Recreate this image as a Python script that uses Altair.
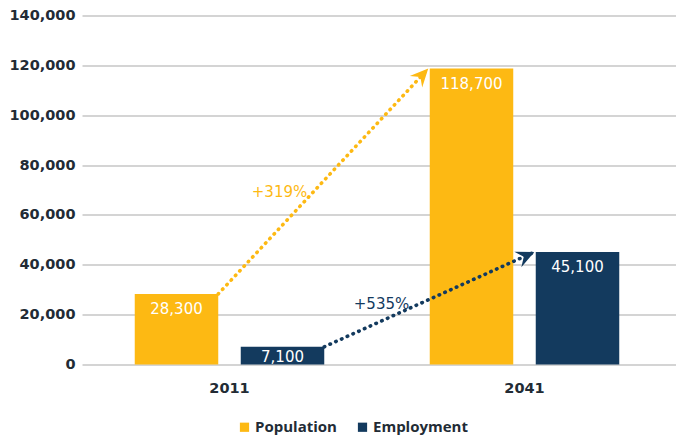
import math
import altair as alt
import pandas as pd

# ---- data ----
years = ["2011", "2041"]
series = ["Population", "Employment"]
population = [28300, 118700]
employment = [7100, 45100]
growth_labels = ["+319%", "+535%"]
colors = ["#FDB913", "#133A5E"]
y_ticks = [0, 20000, 40000, 60000, 80000, 100000, 120000, 140000]

# ---- layout ----
W, H = 594, 349
Y_MAX = 140000
BAND = 295.0
X_PAD_OUTER = (W / BAND - len(years)) / 2
STEP = W / (len(years) + 2 * X_PAD_OUTER)
SUB_PI, SUB_PO = 0.2123, 0.4976
NUM_FONT = "DejaVu Sans"
TXT_FONT = "Open Sans"
DARK = "#222B35"

values_by_series = [population, employment]

bars = pd.DataFrame(
    [{"year": y, "series": s, "value": v}
     for s, vals in zip(series, values_by_series)
     for y, v in zip(years, vals)]
)

# fractions of a year band where each sub-bar starts / ends
sub = 1.0 / (len(series) - SUB_PI + 2 * SUB_PO)
def left_edge(i):
    return (SUB_PO + i) * sub
def right_edge(i):
    return (SUB_PO + i + 1 - SUB_PI) * sub

gap = 1.5 / STEP
line_rows, head_rows, mid_rows = [], [], []
for i, (s, vals, g) in enumerate(zip(series, values_by_series, growth_labels)):
    f0 = right_edge(i)
    f1 = left_edge(i) - gap
    v0, v1 = vals[0], vals[-1]
    line_rows.append({"year": years[0], "series": s, "frac": f0, "value": v0})
    line_rows.append({"year": years[-1], "series": s, "frac": f1, "value": v1})
    dx = (1 + f1 - f0) * STEP
    dy = (v1 - v0) / Y_MAX * H
    ang = math.degrees(math.atan2(dx, dy))
    head_rows.append({"year": years[-1], "series": s, "frac": f1, "value": v1, "angle": ang})
    mid_rows.append({"year": years[0], "series": s, "frac": (f0 + 1 + f1) / 2,
                     "value": (v0 + v1) / 2, "label": g})

lines = pd.DataFrame(line_rows)
heads = pd.DataFrame(head_rows)
mids = pd.DataFrame(mid_rows)

x_enc = alt.X(
    "year:N",
    scale=alt.Scale(domain=years, paddingInner=0, paddingOuter=X_PAD_OUTER, align=0),
    axis=alt.Axis(title=None, domain=False, ticks=False, labelAngle=0,
                  labelFont=NUM_FONT, labelFontWeight="bold", labelFontSize=14.5,
                  labelColor=DARK, labelPadding=17),
)
y_enc = alt.Y(
    "value:Q",
    scale=alt.Scale(domain=[0, Y_MAX], nice=False),
    axis=alt.Axis(title=None, values=y_ticks, labelExpr="format(datum.value, ',')",
                  grid=True, gridColor="#C6C6C6", gridWidth=1.5, domain=False, ticks=False,
                  labelFont=NUM_FONT, labelFontWeight="bold", labelFontSize=14.5,
                  labelColor=DARK, labelPadding=7),
)
sub_offset = alt.XOffset("series:N", scale=alt.Scale(type="band", domain=series,
                                                      paddingInner=SUB_PI,
                                                      paddingOuter=SUB_PO))
color_scale = alt.Scale(domain=series, range=colors)
frac_offset = alt.XOffset("frac:Q", scale=alt.Scale(domain=[0, 1], range=[0, STEP]))

bar_layer = alt.Chart(bars).mark_bar().encode(
    x=x_enc,
    xOffset=sub_offset,
    y=y_enc,
    color=alt.Color(
        "series:N", scale=color_scale,
        legend=alt.Legend(
            title=None, orient="none", direction="horizontal", legendX=155, legendY=404,
            symbolType="square", symbolSize=85, symbolStrokeWidth=0, padding=0,
            labelFont=TXT_FONT, labelFontWeight="bold", labelFontSize=15,
            labelColor=DARK, labelOffset=3, columnPadding=18,
        ),
    ),
)

tall_thr = f"datum.value * {H} / {Y_MAX} >= 30"
label_tall = alt.Chart(bars).transform_filter(tall_thr).mark_text(
    color="white", font=NUM_FONT, fontSize=15, baseline="middle", dy=15
).encode(x=x_enc, xOffset=sub_offset, y=y_enc, text=alt.Text("value:Q", format=","))
label_short = alt.Chart(bars).transform_filter(f"!({tall_thr})").mark_text(
    color="white", font=NUM_FONT, fontSize=15, baseline="middle", dy=10
).encode(x=x_enc, xOffset=sub_offset, y=y_enc, text=alt.Text("value:Q", format=","))

line_layer = alt.Chart(lines).mark_line(
    strokeWidth=3.6, strokeDash=[0.5, 5.8], strokeCap="round"
).encode(
    x=x_enc, xOffset=frac_offset, y=y_enc,
    color=alt.Color("series:N", scale=color_scale, legend=None),
    detail="series:N",
)

ARROW = "M0,0 L0.85,1.8 L0,1.15 L-0.85,1.8 Z"
head_layer = alt.Chart(heads).mark_point(
    shape=ARROW, filled=True, opacity=1, size=400, strokeWidth=0
).encode(
    x=x_enc, xOffset=frac_offset, y=y_enc,
    angle=alt.Angle("angle:Q", scale=None),
    color=alt.Color("series:N", scale=color_scale, legend=None),
)

pct_offsets = {"Population": (-16, 11), "Employment": (-20, 5)}
pct_layers = []
for s in series:
    ddx, ddy = pct_offsets[s]
    pct_layers.append(
        alt.Chart(mids).transform_filter(alt.datum.series == s).mark_text(
            font=NUM_FONT, fontSize=15, align="right", baseline="middle", dx=ddx, dy=ddy
        ).encode(
            x=x_enc, xOffset=frac_offset, y=y_enc, text="label:N",
            color=alt.Color("series:N", scale=color_scale, legend=None),
        )
    )

chart = alt.layer(
    bar_layer, label_tall, label_short, line_layer, head_layer, *pct_layers
).resolve_scale(
    xOffset="independent"
).properties(
    width=W, height=H,
    autosize=alt.AutoSizeParams(type="none"),
    padding={"left": 74, "top": 7.5, "right": 0, "bottom": 76},
    background="white",
).configure_view(stroke=None)

chart.save("out.html", embed_options={"renderer": "svg", "actions": False})
